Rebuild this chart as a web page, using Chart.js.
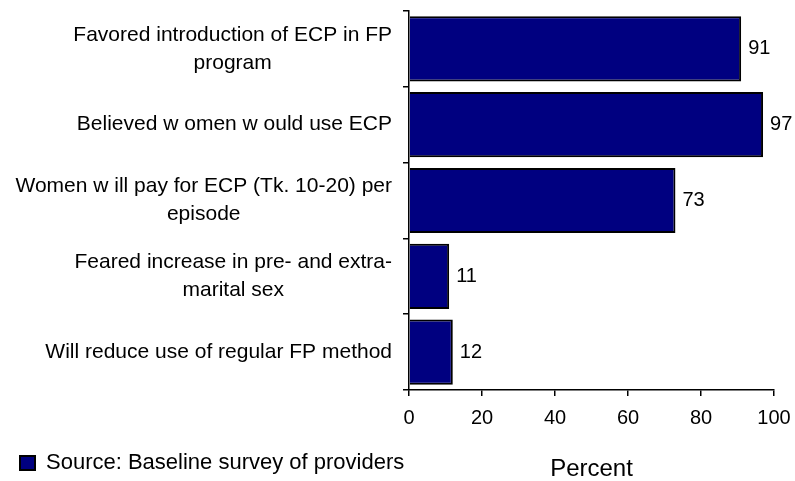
<!DOCTYPE html>
<html>
<head>
<meta charset="utf-8">
<script src="https://cdn.jsdelivr.net/npm/chart.js@4.4.1/dist/chart.umd.min.js"></script>
<style>
  html, body { margin: 0; padding: 0; background: #fff; }
  #wrap { width: 795px; height: 481px; position: relative; }
</style>
</head>
<body>
<div id="wrap"><canvas id="chart"></canvas></div>
<script>
// Chart data
const categories = [
    ['Favored introduction of ECP in FP', 'program'],
    ['Believed w omen w ould use ECP'],
    ['Women w ill pay for ECP (Tk. 10-20) per', 'episode'],
    ['Feared increase in pre- and extra-', 'marital sex'],
    ['Will reduce use of regular FP method']
];
const percentValues = [91, 97, 73, 11, 12];
const xTickValues = [0, 20, 40, 60, 80, 100];
const seriesLabel = 'Source: Baseline survey of providers';
const axisTitle = 'Percent';

const FONT = '"Liberation Sans", Arial, sans-serif';
Chart.defaults.font.family = FONT;
Chart.defaults.color = '#000';

// Draws the category labels (block right-aligned, lines centered),
// the value labels and the axis title
const labelsPlugin = {
    id: 'labelsPlugin',
    afterDraw(chart) {
        const ctx = chart.ctx;
        const yScale = chart.scales.y;
        const xScale = chart.scales.x;
        ctx.save();
        ctx.fillStyle = '#000';
        ctx.textBaseline = 'middle';

        ctx.font = '21px ' + FONT;
        ctx.textAlign = 'center';
        const rightEdge = yScale.right - 17;
        const lineHeight = 28;
        categories.forEach((lines, i) => {
            const yc = yScale.getPixelForTick(i);
            const widest = Math.max(...lines.map(l => ctx.measureText(l).width));
            const xc = rightEdge - widest / 2;
            lines.forEach((line, j) => {
                ctx.fillText(line, xc, yc + (j - (lines.length - 1) / 2) * lineHeight);
            });
        });

        ctx.font = '20px ' + FONT;
        ctx.textAlign = 'left';
        chart.getDatasetMeta(0).data.forEach((bar, i) => {
            ctx.fillText(String(percentValues[i]), bar.x + 7, bar.y);
        });

        ctx.font = '24px ' + FONT;
        ctx.textAlign = 'center';
        ctx.fillText(axisTitle, (xScale.left + xScale.right) / 2, 469);
        ctx.restore();
    }
};

const ctx = document.getElementById('chart').getContext('2d');
new Chart(ctx, {
    type: 'bar',
    data: {
        labels: categories,
        datasets: [{
            label: seriesLabel,
            data: percentValues,
            backgroundColor: '#000080',
            borderColor: '#000',
            borderWidth: 2,
            barPercentage: 0.86,
            categoryPercentage: 1.0
        }]
    },
    options: {
        indexAxis: 'y',
        responsive: true,
        maintainAspectRatio: false,
        animation: false,
        layout: {
            padding: { top: 11, right: 21, left: 10, bottom: -3 }
        },
        scales: {
            x: {
                min: 0,
                max: 100,
                afterBuildTicks: scale => {
                    scale.ticks = xTickValues.map(v => ({ value: v }));
                },
                afterFit: scale => {
                    scale.height = 52;
                    scale.paddingRight = 0;
                    scale.paddingLeft = 0;
                },
                grid: {
                    drawOnChartArea: false,
                    color: '#000',
                    lineWidth: 1.5,
                    tickLength: 6
                },
                border: { color: '#000', width: 1.5 },
                ticks: {
                    font: { size: 20 },
                    color: '#000',
                    padding: 10
                }
            },
            y: {
                afterFit: scale => { scale.width = 399; },
                grid: {
                    drawOnChartArea: false,
                    color: '#000',
                    lineWidth: 1.5,
                    tickLength: 6
                },
                border: { color: '#000', width: 1.5 },
                ticks: { display: false }
            }
        },
        plugins: {
            legend: {
                position: 'bottom',
                align: 'start',
                labels: {
                    boxWidth: 15,
                    boxHeight: 14,
                    font: { size: 22 },
                    color: '#000',
                    padding: 10
                }
            },
            tooltip: { enabled: false }
        }
    },
    plugins: [labelsPlugin]
});
</script>
</body>
</html>
